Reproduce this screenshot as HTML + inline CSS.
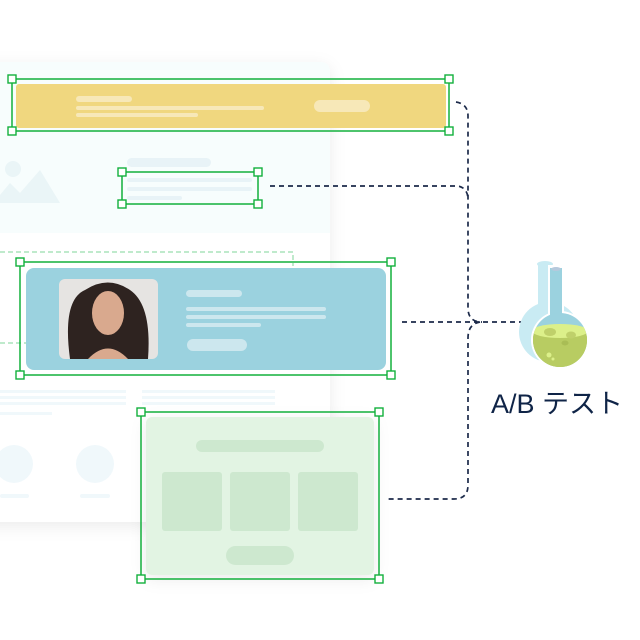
<!DOCTYPE html>
<html><head><meta charset="utf-8"><style>
html,body{margin:0;padding:0;background:#fff;width:640px;height:640px;overflow:hidden}
</style></head><body>
<svg width="640" height="640" viewBox="0 0 640 640" xmlns="http://www.w3.org/2000/svg">
<defs>
<filter id="sh" x="-20%" y="-20%" width="140%" height="140%"><feDropShadow dx="0" dy="4" stdDeviation="8" flood-color="#000" flood-opacity="0.08"/></filter>
<clipPath id="ph"><rect x="59" y="279" width="99" height="80" rx="6"/></clipPath>
<clipPath id="bulb"><circle cx="560" cy="340" r="27"/></clipPath>
</defs>
<!-- page card -->
<rect x="-20" y="62" width="350" height="460" rx="10" fill="#fff" filter="url(#sh)"/>
<path d="M-20 72 Q-20 62 -10 62 L320 62 Q330 62 330 72 L330 233 L-20 233 Z" fill="#f7fdfd"/>
<circle cx="13" cy="169" r="8" fill="#eaf5f7"/>
<path d="M0 195 L10 183 L20 193 L40 170 L60 203 L0 203 Z" fill="#eaf5f7"/>
<rect x="127" y="158" width="84" height="9" rx="4.5" fill="#e8f3f7"/>
<rect x="127" y="178" width="125" height="4" rx="2" fill="#e8f3f7"/>
<rect x="127" y="187" width="125" height="4" rx="2" fill="#e8f3f7"/>
<rect x="127" y="196" width="55" height="4" rx="2" fill="#e8f3f7"/>
<path d="M0 252 L293 252 L293 266" fill="none" stroke="#7fd59a" stroke-width="1" stroke-dasharray="5 3"/>
<path d="M0 343 L26 343" fill="none" stroke="#7fd59a" stroke-width="1" stroke-dasharray="5 3"/>
<g fill="#f0f8fb">
<rect x="0" y="390" width="126" height="3"/><rect x="0" y="396" width="126" height="3"/><rect x="0" y="402" width="126" height="3"/><rect x="0" y="412" width="52" height="3"/>
<rect x="142" y="390" width="133" height="3"/><rect x="142" y="396" width="133" height="3"/><rect x="142" y="402" width="133" height="3"/>
<circle cx="14" cy="464" r="19"/><circle cx="95" cy="464" r="19"/>
<rect x="0" y="494" width="29" height="4" rx="2"/><rect x="80" y="494" width="30" height="4" rx="2"/>
</g>
<rect x="16" y="84" width="430" height="44" rx="3" fill="#f0d77f"/>
<rect x="76" y="96" width="56" height="6" rx="3" fill="#f7e8b8"/>
<rect x="76" y="106" width="188" height="4" rx="2" fill="#f7e8b8"/>
<rect x="76" y="113" width="122" height="4" rx="2" fill="#f7e8b8"/>
<rect x="314" y="100" width="56" height="12" rx="6" fill="#f7e8b8"/>
<rect x="26" y="268" width="360" height="102" rx="8" fill="#9bd2df"/>
<g clip-path="url(#ph)">
<rect x="59" y="279" width="99" height="80" fill="#e6e4e2"/>
<path d="M70 359 Q62 300 85 290 Q108 275 130 290 Q152 305 148 359 Z" fill="#2e2320"/>
<ellipse cx="108" cy="313" rx="16" ry="22" fill="#d9a98e"/>
<path d="M88 359 Q108 338 128 359 Z" fill="#d9a98e"/>
</g>
<g fill="#cce7ee">
<rect x="186" y="290" width="56" height="7" rx="3.5"/>
<rect x="186" y="307" width="140" height="4" rx="2"/>
<rect x="186" y="315" width="140" height="4" rx="2"/>
<rect x="186" y="323" width="75" height="4" rx="2"/>
<rect x="187" y="339" width="60" height="12" rx="6"/>
</g>
<rect x="146" y="417" width="228" height="158" rx="6" fill="#e2f4e3" filter="url(#sh)"/>
<g fill="#cde8cf">
<rect x="196" y="440" width="128" height="12" rx="6"/>
<rect x="162" y="472" width="60" height="59" rx="3"/>
<rect x="230" y="472" width="60" height="59" rx="3"/>
<rect x="298" y="472" width="60" height="59" rx="3"/>
<rect x="226" y="546" width="68" height="19" rx="9.5"/>
</g>
<g fill="none" stroke="#12b03c" stroke-width="1.5">
<rect x="12" y="79" width="437" height="52"/>
<rect x="122" y="172" width="136" height="32"/>
<rect x="20" y="262" width="371" height="113"/>
<rect x="141" y="412" width="238" height="167"/>
</g>
<g fill="#fff" stroke="#12b03c" stroke-width="1.4">
<rect x="8" y="75" width="8" height="8"/><rect x="445" y="75" width="8" height="8"/><rect x="8" y="127" width="8" height="8"/><rect x="445" y="127" width="8" height="8"/>
<rect x="118" y="168" width="8" height="8"/><rect x="254" y="168" width="8" height="8"/><rect x="118" y="200" width="8" height="8"/><rect x="254" y="200" width="8" height="8"/>
<rect x="16" y="258" width="8" height="8"/><rect x="387" y="258" width="8" height="8"/><rect x="16" y="371" width="8" height="8"/><rect x="387" y="371" width="8" height="8"/>
<rect x="137" y="408" width="8" height="8"/><rect x="375" y="408" width="8" height="8"/><rect x="137" y="575" width="8" height="8"/><rect x="375" y="575" width="8" height="8"/>
</g>
<g fill="none" stroke="#1c2a4a" stroke-width="1.7" stroke-dasharray="5 4">
<path d="M456 102 Q468 104 468 116 L468 308 Q468 322 482 322"/>
<path d="M270 186 L458 186 Q468 188 468 200"/>
<path d="M402 322 L522 322"/>
<path d="M480 322 Q468 324 468 338 L468 485 Q468 499 454 499 L385 499"/>
</g>
<!-- flask -->
<g>
<rect x="538" y="263" width="14" height="50" fill="#c9ebf3"/>
<ellipse cx="545" cy="264" rx="8" ry="3" fill="#c9ebf3"/>
<circle cx="549" cy="332" r="30" fill="#c9ebf3"/>
<rect x="548" y="265" width="16" height="60" fill="#fff"/>
<circle cx="560" cy="340" r="29" fill="#fff"/>
<rect x="550" y="268" width="12" height="58" fill="#9bd2df"/>
<circle cx="560" cy="340" r="27" fill="#9bd2df"/>
<ellipse cx="556" cy="269" rx="5" ry="2" fill="#b6c9dc"/>
<g clip-path="url(#bulb)">
<rect x="530" y="331" width="60" height="40" fill="#b8cc62"/>
<ellipse cx="560" cy="331" rx="28" ry="7" fill="#dcf08a"/>
<path d="M532 335 Q560 347 588 335 L588 372 L532 372 Z" fill="#b8cc62"/>
</g>
<ellipse cx="550" cy="332" rx="6" ry="4" fill="#bfd06a"/>
<ellipse cx="571" cy="335" rx="5" ry="3.5" fill="#bfd06a"/>
<ellipse cx="565" cy="343" rx="3.5" ry="2.5" fill="#a9bd55"/>
<circle cx="549" cy="355" r="2.5" fill="#dcf08a"/>
<circle cx="553" cy="359" r="1.5" fill="#dcf08a"/>
</g>
<text x="557" y="413" text-anchor="middle" font-family="Liberation Sans, Noto Sans CJK JP, sans-serif" font-size="27" fill="#0f2447">A/B テスト</text>
</svg>
</body></html>
